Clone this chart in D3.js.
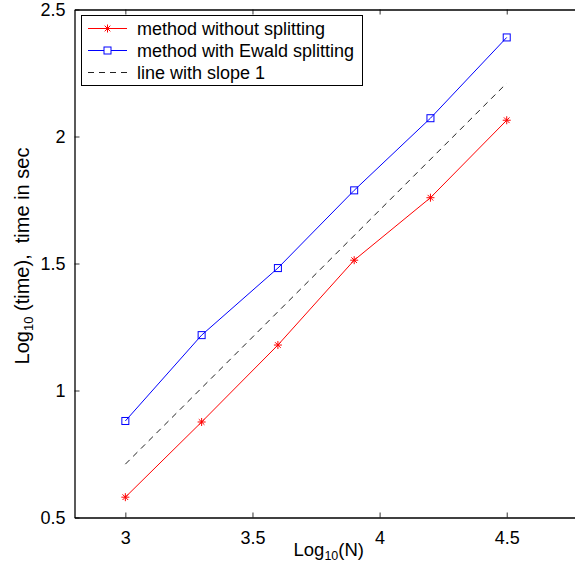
<!DOCTYPE html>
<html><head><meta charset="utf-8">
<script src="https://cdn.jsdelivr.net/npm/d3@7"></script>
<style>body{margin:0;background:#fff}svg{display:block}text{font-family:"Liberation Sans",Arial,Helvetica,sans-serif}</style>
</head><body>
<svg id="c" width="575" height="569"></svg>
<script>
const logN = [3, 3.3, 3.6, 3.9, 4.2, 4.5];
const withoutSplitting = [0.58, 0.876, 1.179, 1.513, 1.759, 2.064];
const ewaldSplitting = [0.88, 1.218, 1.482, 1.788, 2.072, 2.39];
const slopeX = [3, 4.5];
const slopeY = [0.71, 2.21];
const xTicks = [3, 3.5, 4, 4.5];
const yTicks = [0.5, 1, 1.5, 2, 2.5];
const legendLabels = ["method without splitting", "method with Ewald splitting", "line with slope 1"];

const svg = d3.select("#c");
const L = 74.5, R = 583, T = 9.5, B = 517.5;
const FS = 18;
const x = d3.scaleLinear().domain([2.8, 4.8]).range([L, R]);
const y = d3.scaleLinear().domain([0.5, 2.5]).range([B, T]);

// axes
const xa = svg.append("g").attr("transform", `translate(0,${B})`)
  .call(d3.axisBottom(x).tickValues(xTicks).tickSizeInner(-5).tickSizeOuter(0).tickPadding(9).tickFormat(d3.format("")));
const xt = svg.append("g").attr("transform", `translate(0,${T})`)
  .call(d3.axisTop(x).tickValues(xTicks).tickSizeInner(-5).tickSizeOuter(0).tickFormat(""));
const ya = svg.append("g").attr("transform", `translate(${L},0)`)
  .call(d3.axisLeft(y).tickValues(yTicks).tickSizeInner(-5).tickSizeOuter(0).tickPadding(9).tickFormat(d3.format("")));
[xa, xt, ya].forEach(g => {
  g.select(".domain").attr("stroke", "#000").attr("stroke-width", 1.3);
  g.selectAll(".tick line").attr("stroke", "#000").attr("stroke-width", 0.8);
  g.selectAll("text").attr("font-size", FS).attr("fill", "#000").style("font-family", "'Liberation Sans',Arial,sans-serif");
});
xa.selectAll("text").attr("dy", "0.95em");

const line = d3.line().x(d => x(d[0])).y(d => y(d[1]));

// dashed slope line
svg.append("path").datum(slopeX.map((v, i) => [v, slopeY[i]]))
  .attr("d", line).attr("fill", "none").attr("stroke", "#222").attr("stroke-width", 1).attr("stroke-dasharray", "6,5");

// red series
const redPts = logN.map((v, i) => [v, withoutSplitting[i]]);
svg.append("path").datum(redPts).attr("d", line).attr("fill", "none").attr("stroke", "#ff0000").attr("stroke-width", 1);
const star = (g, cx, cy, s) => {
  for (let a = 0; a < 4; a++) {
    const ang = a * Math.PI / 4;
    g.append("line").attr("x1", cx - s * Math.cos(ang)).attr("y1", cy - s * Math.sin(ang))
      .attr("x2", cx + s * Math.cos(ang)).attr("y2", cy + s * Math.sin(ang))
      .attr("stroke", "#ff0000").attr("stroke-width", 1);
  }
};
const redG = svg.append("g");
redPts.forEach(p => star(redG, x(p[0]), y(p[1]), 4));

// blue series
const bluePts = logN.map((v, i) => [v, ewaldSplitting[i]]);
svg.append("path").datum(bluePts).attr("d", line).attr("fill", "none").attr("stroke", "#0000ff").attr("stroke-width", 1);
svg.append("g").selectAll("rect").data(bluePts).join("rect")
  .attr("x", d => x(d[0]) - 3.5).attr("y", d => y(d[1]) - 3.5).attr("width", 7).attr("height", 7)
  .attr("fill", "none").attr("stroke", "#0000ff").attr("stroke-width", 1);

// legend
const lg = svg.append("g");
lg.append("rect").attr("x", 81.5).attr("y", 15.5).attr("width", 281).attr("height", 70)
  .attr("fill", "#fff").attr("stroke", "#000").attr("stroke-width", 1);
const ly = [28.5, 50.5, 72.5];
const lx1 = 88, lx2 = 127;
lg.append("line").attr("x1", lx1).attr("x2", lx2).attr("y1", ly[0]).attr("y2", ly[0]).attr("stroke", "#ff0000");
star(lg, (lx1 + lx2) / 2, ly[0], 4);
lg.append("line").attr("x1", lx1).attr("x2", lx2).attr("y1", ly[1]).attr("y2", ly[1]).attr("stroke", "#0000ff");
lg.append("rect").attr("x", (lx1 + lx2) / 2 - 3.5).attr("y", ly[1] - 3.5).attr("width", 7).attr("height", 7)
  .attr("fill", "#fff").attr("stroke", "#0000ff");
lg.append("line").attr("x1", lx1).attr("x2", lx2).attr("y1", ly[2]).attr("y2", ly[2]).attr("stroke", "#222").attr("stroke-dasharray", "6,5");
legendLabels.forEach((t, i) => {
  lg.append("text").attr("x", 137).attr("y", ly[i]).attr("dy", "0.35em").attr("font-size", FS).attr("fill", "#000").text(t);
});

// axis labels
const xl = svg.append("text").attr("x", (L + R) / 2).attr("y", 556).attr("text-anchor", "middle").attr("font-size", 18.5);
xl.append("tspan").text("Log");
xl.append("tspan").attr("font-size", 12.5).attr("dy", 4).text("10");
xl.append("tspan").attr("dy", -4).text("(N)");

const yl = svg.append("text").attr("transform", `translate(29,256) rotate(-90)`).attr("text-anchor", "middle").attr("font-size", 20)
  .style("white-space", "pre");
yl.append("tspan").text("Log");
yl.append("tspan").attr("font-size", 13).attr("dy", 4).text("10");
yl.append("tspan").attr("dy", -4).text(" (time),  time in sec");
</script>
</body></html>
